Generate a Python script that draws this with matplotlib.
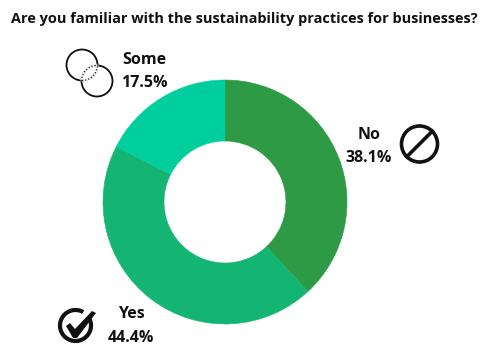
import numpy as np
from matplotlib import pyplot as plt
from matplotlib.patches import Arc, Circle, Polygon

etiquetas = ["No", "Yes", "Some"]
valores = [38.1, 44.4, 17.5]
colores = ["#2E9A45", "#14B473", "#00CF9D"]
titulo = "Are you familiar with the sustainability practices for businesses?"

plt.rcParams["font.family"] = "Open Sans"
plt.rcParams["font.weight"] = "bold"

ALTO = 345


def py(y):
    # la posicion se piensa desde arriba, como en pantalla
    return ALTO - y


def etiqueta(ax, x, y, nombre, valor):
    ax.text(x, py(y), nombre, ha="center", va="center", fontsize=11.5, color="#111111")
    ax.text(x, py(y + 23), f"{valor}%", ha="center", va="center", fontsize=11.5, color="#111111")


def icono_some(ax):
    ax.add_patch(Circle((82, py(65)), 15.5, fill=False, ec="#111111", lw=1.3))
    ax.add_patch(Circle((97, py(81)), 15.5, fill=False, ec="#111111", lw=1.3))
    # la interseccion va punteada encima de los dos circulos
    ax.add_patch(Circle((82, py(65)), 15.5, fill=False, ec="white", lw=1.6,
                        clip_path=Circle((97, py(81)), 15.5, transform=ax.transData)))
    ax.add_patch(Circle((97, py(81)), 15.5, fill=False, ec="white", lw=1.6,
                        clip_path=Circle((82, py(65)), 15.5, transform=ax.transData)))
    ax.add_patch(Circle((82, py(65)), 15.5, fill=False, ec="#111111", lw=0.9, ls=(0, (1, 1.5)),
                        clip_path=Circle((97, py(81)), 15.5, transform=ax.transData)))
    ax.add_patch(Circle((97, py(81)), 15.5, fill=False, ec="#111111", lw=0.9, ls=(0, (1, 1.5)),
                        clip_path=Circle((82, py(65)), 15.5, transform=ax.transData)))


def icono_no(ax):
    ax.add_patch(Circle((419.5, py(144)), 18, fill=False, ec="#111111", lw=2.6))
    ang = np.deg2rad(45)
    dx, dy = 18 * np.cos(ang), 18 * np.sin(ang)
    ax.plot([419.5 - dx, 419.5 + dx], [py(144) - dy, py(144) + dy], color="#111111", lw=2.6)


def icono_yes(ax):
    ax.add_patch(Arc((75.5, py(325.5)), 31, 31, theta1=60, theta2=385, ec="#111111", lw=3.0))
    # palomita mas gruesa abajo y fina en la punta
    puntos = [(66, 326), (70, 323), (75, 329), (92, 311), (96, 313), (77, 338), (73, 338)]
    ax.add_patch(Polygon([(x, py(y)) for x, y in puntos], closed=True, fc="#111111", ec="none"))


fig = plt.figure(figsize=(4.8, 3.45), dpi=100)
ax = fig.add_axes([0, 0, 1, 1])
cunas, _ = ax.pie(valores, colors=colores, startangle=90, counterclock=False, radius=122,
                  center=(225, py(202)), frame=True, wedgeprops={"width": 61})
for cuna in cunas:
    cuna.set_edgecolor(cuna.get_facecolor())
    cuna.set_linewidth(0.4)
ax.set_xlim(0, 480)
ax.set_ylim(0, ALTO)
ax.set_aspect("equal")
ax.axis("off")

ax.text(244, py(19), titulo, ha="center", va="center", fontsize=10.45, color="#111111")
etiqueta(ax, 369, 135, etiquetas[0], valores[0])
etiqueta(ax, 131, 314.5, etiquetas[1], valores[1])
etiqueta(ax, 144, 60, etiquetas[2], valores[2])

icono_some(ax)
icono_no(ax)
icono_yes(ax)

fig.savefig("out.png", dpi=100)
